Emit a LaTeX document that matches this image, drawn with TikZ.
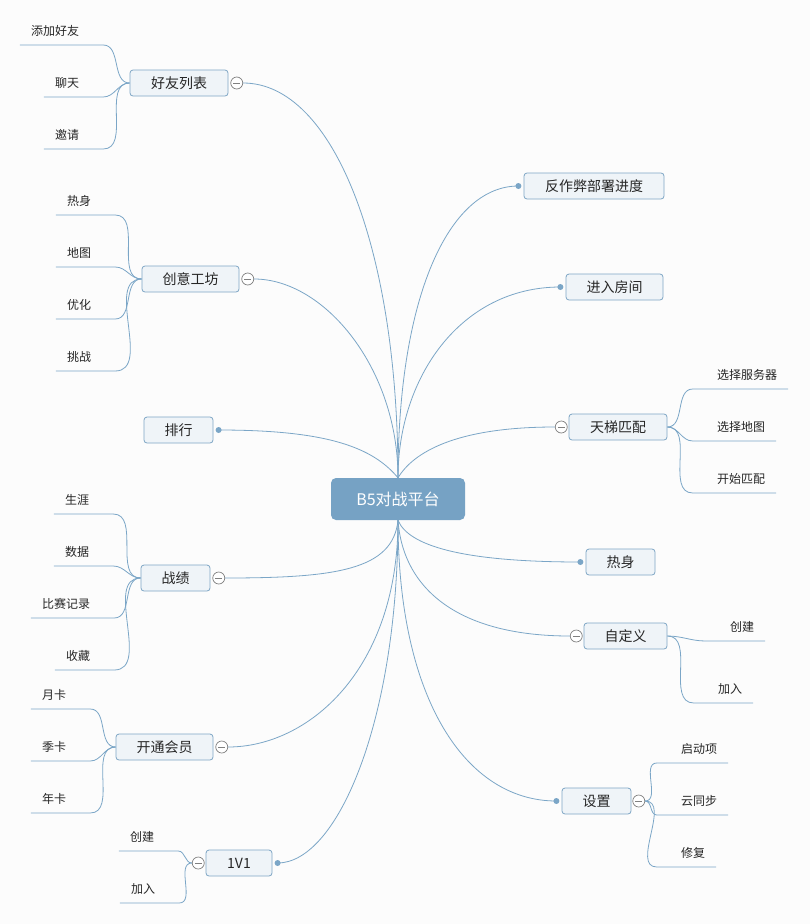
\documentclass[tikz,border=0pt]{standalone}
\usepackage{fontspec}
\newfontfamily\cjk{Noto Sans CJK SC}
\usetikzlibrary{positioning}
\definecolor{linea}{HTML}{7BA6C7}
\definecolor{bordo}{HTML}{7EA6C5}
\definecolor{riemp}{HTML}{EFF4F8}
\definecolor{radicecol}{HTML}{76A2C4}
\definecolor{sfondo}{HTML}{FCFCFC}

\begin{document}
\begin{tikzpicture}[x=1pt, y=-1pt, font=\cjk,
    ramo/.style={draw=linea, line width=0.8pt},
    argomento/.style={draw=bordo, fill=riemp, rounded corners=3pt, line width=0.8pt,
        minimum height=26pt, inner sep=0pt, text=black!85,
        font=\cjk\fontsize{14}{16}\selectfont},
    foglia/.style={anchor=south, inner xsep=11pt, inner ysep=8pt, text=black!85,
        font=\cjk\fontsize{12}{14}\selectfont},
    chiudi/.style={circle, draw=gray, fill=white, minimum size=12pt, inner sep=0pt,
        line width=0.7pt, path picture={\draw[gray, line width=0.8pt]
        ([xshift=-3.5pt]path picture bounding box.center) --
        ([xshift=3.5pt]path picture bounding box.center);}},
    punto/.style={circle, fill=linea, minimum size=6pt, inner sep=0pt}]

    % Sfondo e dimensioni
    \fill[sfondo] (0,0) rectangle (810,924);
    \useasboundingbox (0,0) rectangle (810,924);

    % Nodo centrale
    \node[fill=radicecol, rounded corners=5pt, minimum width=134pt, minimum height=42pt,
        text=white, font=\cjk\fontsize{16}{18}\selectfont] (radice) at (398,499) {B5对战平台};

    % Argomenti a sinistra
    \node[argomento, minimum width=98pt] (amici) at (179,83) {好友列表};
    \node[chiudi, right=2pt of amici] (cAmici) {};
    \node[argomento, minimum width=97pt] (officina) at (190.5,279) {创意工坊};
    \node[chiudi, right=2pt of officina] (cOfficina) {};
    \node[argomento, minimum width=69pt] (classifica) at (178.5,430) {排行};
    \node[punto, right=2pt of classifica] (pClassifica) {};
    \node[argomento, minimum width=69pt] (record) at (175.5,578) {战绩};
    \node[chiudi, right=2pt of record] (cRecord) {};
    \node[argomento, minimum width=97pt] (vip) at (164.5,747) {开通会员};
    \node[chiudi, right=2pt of vip] (cVip) {};
    \node[argomento, minimum width=66pt] (duello) at (239,863) {1V1};
    \node[punto, right=2pt of duello] (pDuello) {};
    \node[chiudi, left=1pt of duello] (cDuello) {};

    % Argomenti a destra
    \node[argomento, minimum width=140pt] (antibaro) at (594,186) {反作弊部署进度};
    \node[punto, left=2pt of antibaro] (pAntibaro) {};
    \node[argomento, minimum width=97pt] (stanza) at (614.5,287) {进入房间};
    \node[punto, left=2pt of stanza] (pStanza) {};
    \node[argomento, minimum width=98pt] (scala) at (618,427) {天梯匹配};
    \node[chiudi, left=1pt of scala] (cScala) {};
    \node[argomento, minimum width=69pt] (riscaldo) at (620.5,562) {热身};
    \node[punto, left=2pt of riscaldo] (pRiscaldo) {};
    \node[argomento, minimum width=83pt] (custom) at (625.5,636) {自定义};
    \node[chiudi, left=1pt of custom] (cCustom) {};
    \node[argomento, minimum width=69pt] (impost) at (596.5,801) {设置};
    \node[punto, left=2pt of impost] (pImpost) {};
    \node[chiudi, right=1pt of impost] (cImpost) {};

    % Rami dal nodo centrale (sopra)
    \draw[ramo] (cAmici.east) .. controls +(90,0) and +(0,-230) .. (radice.north);
    \draw[ramo] (cOfficina.east) .. controls +(70,0) and +(0,-110) .. (radice.north);
    \draw[ramo] (pClassifica.center) .. controls +(110,0) and +(-25,-30) .. (radice.north);
    \draw[ramo] (pAntibaro.center) .. controls +(-70,0) and +(0,-180) .. (radice.north);
    \draw[ramo] (pStanza.center) .. controls +(-100,0) and +(0,-100) .. (radice.north);
    \draw[ramo] (cScala.west) .. controls +(-100,0) and +(15,-25) .. (radice.north);

    % Rami dal nodo centrale (sotto)
    \draw[ramo] (cRecord.east) .. controls +(110,0) and +(-5,50) .. (radice.south);
    \draw[ramo] (cVip.east) .. controls +(80,0) and +(0,150) .. (radice.south);
    \draw[ramo] (pDuello.center) .. controls +(60,0) and +(0,200) .. (radice.south);
    \draw[ramo] (pRiscaldo.center) .. controls +(-120,0) and +(10,25) .. (radice.south);
    \draw[ramo] (cCustom.west) .. controls +(-110,0) and +(5,70) .. (radice.south);
    \draw[ramo] (pImpost.center) .. controls +(-90,0) and +(0,180) .. (radice.south);

    % Foglie di 好友列表
    \node[foglia] (a1) at (55,45) {添加好友};
    \node[foglia] (a2) at (67,97) {聊天};
    \node[foglia] (a3) at (67,149) {邀请};
    \foreach \f in {a1,a2,a3}
        \draw[ramo] (\f.south west) -- ([xshift=13pt]\f.south east) to[out=0,in=180] (amici.west);

    % Foglie di 创意工坊
    \node[foglia] (o1) at (79,215) {热身};
    \node[foglia] (o2) at (79,267) {地图};
    \node[foglia] (o3) at (79,319) {优化};
    \node[foglia] (o4) at (79,371) {挑战};
    \foreach \f in {o1,o2,o3,o4}
        \draw[ramo] (\f.south west) -- ([xshift=13pt]\f.south east) to[out=0,in=180] (officina.west);

    % Foglie di 战绩
    \node[foglia] (r1) at (77,514) {生涯};
    \node[foglia] (r2) at (77,566) {数据};
    \node[foglia] (r3) at (66,618) {比赛记录};
    \node[foglia] (r4) at (78,670) {收藏};
    \foreach \f in {r1,r2,r3,r4}
        \draw[ramo] (\f.south west) -- ([xshift=13pt]\f.south east) to[out=0,in=180] (record.west);

    % Foglie di 开通会员
    \node[foglia] (v1) at (54,709) {月卡};
    \node[foglia] (v2) at (54,761) {季卡};
    \node[foglia] (v3) at (54,813) {年卡};
    \foreach \f in {v1,v2,v3}
        \draw[ramo] (\f.south west) -- ([xshift=13pt]\f.south east) to[out=0,in=180] (vip.west);

    % Foglie di 1V1
    \node[foglia] (d1) at (142,851) {创建};
    \node[foglia] (d2) at (143,903) {加入};
    \foreach \f in {d1,d2}
        \draw[ramo] (\f.south west) -- ([xshift=13pt]\f.south east) to[out=0,in=180] (cDuello.west);

    % Foglie di 天梯匹配
    \node[foglia] (s1) at (747,389) {选择服务器};
    \node[foglia] (s2) at (741,441) {选择地图};
    \node[foglia] (s3) at (741,493) {开始匹配};
    \foreach \f in {s1,s2,s3}
        \draw[ramo] (scala.east) to[out=0,in=180] ([xshift=-13pt]\f.south west) -- (\f.south east);

    % Foglie di 自定义
    \node[foglia] (u1) at (742,641) {创建};
    \node[foglia] (u2) at (730,703) {加入};
    \foreach \f in {u1,u2}
        \draw[ramo] (custom.east) to[out=0,in=180] ([xshift=-13pt]\f.south west) -- (\f.south east);

    % Foglie di 设置
    \node[foglia] (i1) at (699,763) {启动项};
    \node[foglia] (i2) at (699,815) {云同步};
    \node[foglia] (i3) at (693,867) {修复};
    \foreach \f in {i1,i2,i3}
        \draw[ramo] (cImpost.east) to[out=0,in=180] ([xshift=-13pt]\f.south west) -- (\f.south east);
\end{tikzpicture}
\end{document}
